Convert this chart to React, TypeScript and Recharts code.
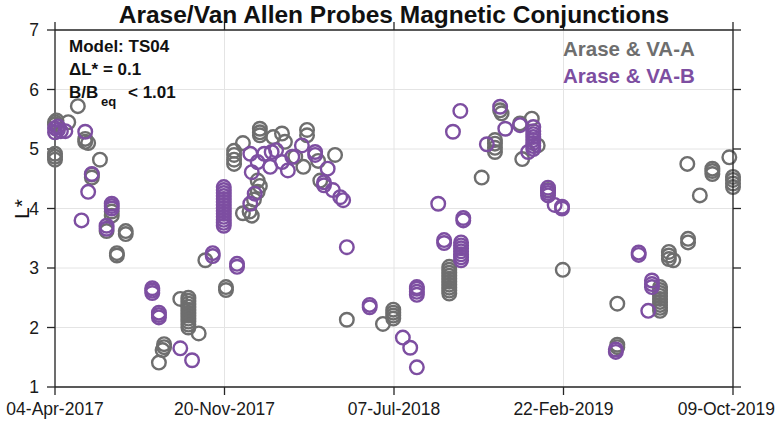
import React from 'react';
import { ScatterChart, Scatter, XAxis, YAxis, CartesianGrid } from 'recharts';

// x values are days since 04-Apr-2017
const xTicks = [0, 230, 460, 690, 920];
const xTickLabels = ['04-Apr-2017', '20-Nov-2017', '07-Jul-2018', '22-Feb-2019', '09-Oct-2019'];
const yTicks = [1, 2, 3, 4, 5, 6, 7];

const vaA: [number, number][] = [
  [0, 5.45], [0, 5.41], [2, 5.48], [0, 4.82], [0, 4.87], [0, 4.92],
  [18, 5.45], [31, 5.72], [41, 5.12], [41, 5.17], [45, 5.1], [61, 4.82], [50, 4.52], [50, 4.57],
  [77, 3.88], [77, 3.95], [70, 3.62], [96, 3.57], [96, 3.62], [84, 3.21], [84, 3.25],
  [146, 1.62], [148, 1.67], [148, 1.72], [141, 1.41], [170, 2.48],
  [181, 2.0], [181, 2.05], [181, 2.1], [181, 2.15], [181, 2.2], [181, 2.25], [181, 2.3], [181, 2.35], [181, 2.4], [181, 2.45], [181, 2.5],
  [195, 1.9], [204, 3.13], [232, 2.63], [232, 2.68],
  [243, 4.75], [243, 4.82], [243, 4.9], [243, 4.97], [255, 5.1], [255, 3.92], [267, 3.88], [264, 3.95],
  [278, 5.34], [278, 5.28], [278, 5.23], [308, 5.26], [312, 5.12], [342, 5.32], [342, 5.23], [326, 4.87],
  [337, 4.7], [357, 4.8], [380, 4.9], [275, 4.47], [275, 4.28], [278, 4.38], [360, 4.47], [270, 4.15], [296, 5.2],
  [396, 2.13], [445, 2.06], [459, 2.15], [459, 2.2], [459, 2.25], [459, 2.3],
  [535, 2.57], [535, 2.62], [535, 2.67], [535, 2.72], [535, 2.77], [535, 2.82], [535, 2.87], [535, 2.92], [535, 2.97], [535, 3.02],
  [579, 4.52], [597, 4.95], [597, 5.02], [597, 5.09], [597, 5.15], [604, 5.65], [606, 5.6], [631, 5.43], [647, 5.51],
  [634, 4.83], [655, 5.06], [669, 4.31], [689, 2.97],
  [763, 2.4], [763, 1.67], [763, 1.71],
  [821, 2.28], [821, 2.33], [821, 2.38], [821, 2.43], [821, 2.48], [821, 2.53], [821, 2.58], [821, 2.63], [821, 2.68],
  [833, 3.15], [833, 3.21], [833, 3.27], [839, 3.13], [859, 3.43], [859, 3.49], [858, 4.75], [875, 4.22],
  [892, 4.58], [892, 4.63], [892, 4.67], [915, 4.86], [920, 4.36], [920, 4.42], [920, 4.48], [920, 4.53],
];

const vaB: [number, number][] = [
  [0, 5.28], [0, 5.35], [4, 5.32], [4, 5.38], [8, 5.3], [14, 5.3], [41, 5.29], [50, 4.58], [45, 4.28],
  [77, 4.0], [77, 4.04], [77, 4.08], [36, 3.8], [70, 3.66], [70, 3.71],
  [132, 2.58], [132, 2.62], [132, 2.66], [141, 2.17], [141, 2.21], [141, 2.25], [170, 1.65], [186, 1.45],
  [214, 3.2], [214, 3.25],
  [229, 3.71], [229, 3.76], [229, 3.81], [229, 3.86], [229, 3.91], [229, 3.96], [229, 4.01], [229, 4.06],
  [229, 4.11], [229, 4.16], [229, 4.21], [229, 4.26], [229, 4.31], [229, 4.36],
  [247, 3.02], [247, 3.07],
  [265, 4.92], [267, 4.61], [265, 4.08], [271, 4.25], [284, 4.92], [294, 4.95], [292, 4.7], [308, 4.78],
  [316, 4.64], [322, 4.87], [335, 5.06], [353, 4.95], [353, 4.9], [370, 4.67], [365, 4.39], [365, 4.44],
  [377, 4.31], [387, 4.19], [391, 4.14], [300, 4.98], [275, 4.78], [396, 3.35], [427, 2.34], [427, 2.38],
  [472, 1.83], [482, 1.66], [491, 1.33], [491, 2.55], [491, 2.6], [491, 2.65], [491, 2.68], [520, 4.08],
  [528, 3.42], [528, 3.47], [554, 3.8], [554, 3.84],
  [551, 3.13], [551, 3.18], [551, 3.23], [551, 3.28], [551, 3.33], [551, 3.38], [551, 3.43],
  [550, 5.64], [540, 5.29], [586, 5.08], [604, 5.71], [611, 5.34], [631, 5.4],
  [649, 5.0], [649, 5.05], [649, 5.1], [649, 5.15], [649, 5.2], [649, 5.25], [649, 5.3], [649, 5.37],
  [642, 4.95], [669, 4.22], [669, 4.26], [669, 4.3], [669, 4.35], [678, 4.06], [688, 4.0], [688, 4.03],
  [761, 1.59], [761, 1.63], [792, 3.22], [792, 3.26], [805, 2.28], [810, 2.68], [810, 2.73], [810, 2.79],
];

const GRAY = '#6e6e6e';
const PURPLE = '#7d4ea1';
const AXIS = '#262626';
const FONT = '"Liberation Sans", Arial, Helvetica, sans-serif';
const TICK_FS = 17.5;

const toRows = (arr: [number, number][]) => arr.map(([x, y]) => ({ x, y }));

const ring = (color: string) => (props: any) => (
  <circle cx={props.cx} cy={props.cy} r={6.8} fill="none" stroke={color} strokeWidth={2.4} />
);
const nothing = () => <g />;
const NoTick = () => <g />;

const XTick = (props: any) => {
  const v = props.payload?.value;
  const idx = xTicks.indexOf(v);
  const label = xTickLabels[idx] ?? '';
  const isLast = idx === xTicks.length - 1;
  return (
    <text
      x={isLast ? 775 : props.x}
      y={props.y}
      dy="0.78em"
      textAnchor={isLast ? 'end' : 'middle'}
      fontSize={TICK_FS}
      fontFamily={FONT}
      fill="#1a1a1a"
    >
      {label}
    </text>
  );
};
const YTick = (props: any) => (
  <text x={props.x} y={props.y} dy="0.36em" textAnchor="end" fontSize={TICK_FS} fontFamily={FONT} fill="#1a1a1a">
    {props.payload?.value}
  </text>
);

export default function App() {
  const dataA = toRows(vaA);
  const dataB = toRows(vaB);
  return (
    <div style={{ position: 'absolute', left: 0, top: 0, width: 777, height: 421, background: '#fff' }}>
      <ScatterChart width={777} height={421} margin={{ top: 30, right: 44, left: 0, bottom: 0 }}>
        <CartesianGrid stroke="#e4e4e4" strokeWidth={1} />
        <XAxis
          type="number"
          dataKey="x"
          domain={[0, 920]}
          ticks={xTicks}
          height={34}
          tickSize={8}
          tickMargin={6}
          tick={<XTick />}
          stroke={AXIS}
          strokeWidth={1.3}
          interval={0}
        />
        <YAxis
          type="number"
          dataKey="y"
          domain={[1, 7]}
          ticks={yTicks}
          width={55}
          tickSize={8}
          tickMargin={8}
          tick={<YTick />}
          stroke={AXIS}
          strokeWidth={1.3}
          interval={0}
        />
        <Scatter data={dataA} fill={GRAY} shape={ring(GRAY)} isAnimationActive={false} />
        <Scatter data={dataB} fill={PURPLE} shape={ring(PURPLE)} isAnimationActive={false} />
      </ScatterChart>
      <div style={{ position: 'absolute', left: 0, top: 0, pointerEvents: 'none' }}>
        <ScatterChart width={777} height={421} margin={{ top: 0, right: 0, left: 55, bottom: 34 }}>
          <XAxis
            orientation="top"
            type="number"
            dataKey="x"
            domain={[0, 920]}
            ticks={xTicks}
            height={30}
            tickSize={8}
            tick={<NoTick />}
            stroke={AXIS}
            strokeWidth={1.3}
            interval={0}
          />
          <YAxis
            orientation="right"
            type="number"
            dataKey="y"
            domain={[1, 7]}
            ticks={yTicks}
            width={44}
            tickSize={8}
            tick={<NoTick />}
            stroke={AXIS}
            strokeWidth={1.3}
            interval={0}
          />
          <Scatter data={dataA} shape={nothing} isAnimationActive={false} />
        </ScatterChart>
      </div>
      <svg width={777} height={421} style={{ position: 'absolute', left: 0, top: 0, pointerEvents: 'none' }}>
        <g fontFamily={FONT}>
          <text x={394} y={23} textAnchor="middle" fontSize={24.5} fontWeight="bold" fill="#111">
            Arase/Van Allen Probes Magnetic Conjunctions
          </text>
          <text x={69} y={52} fontSize={17} fontWeight="bold" fill="#111">Model: TS04</text>
          <text x={69} y={75} fontSize={17} fontWeight="bold" fill="#111">ΔL* = 0.1</text>
          <text x={69} y={98} fontSize={17} fontWeight="bold" fill="#111">B/B</text>
          <text x={101} y={106} fontSize={13} fontWeight="bold" fill="#111">eq</text>
          <text x={128} y={98} fontSize={17} fontWeight="bold" fill="#111">&lt; 1.01</text>
          <text x={563} y={56} fontSize={20.5} fontWeight="bold" fill={GRAY}>Arase &amp; VA-A</text>
          <text x={563} y={83} fontSize={20.5} fontWeight="bold" fill={PURPLE}>Arase &amp; VA-B</text>
          <text x={29} y={209} fontSize={21} fill="#111" textAnchor="middle" transform="rotate(-90 29 209)">L*</text>
        </g>
      </svg>
    </div>
  );
}
